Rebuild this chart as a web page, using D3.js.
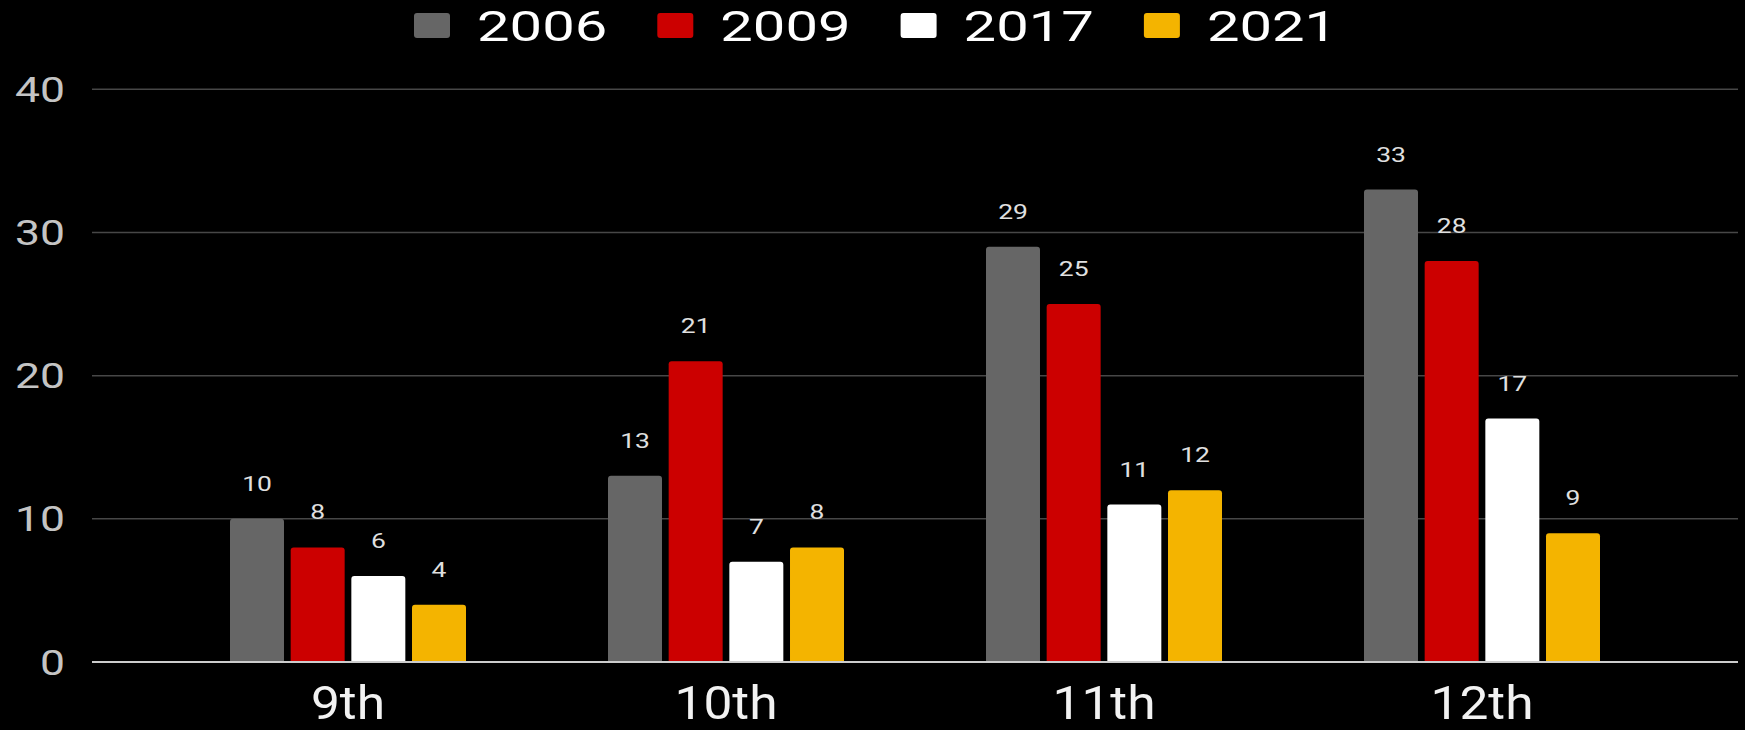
<!DOCTYPE html>
<html>
<head>
<meta charset="utf-8">
<script src="https://cdn.jsdelivr.net/npm/d3@7"></script>
<style>
html,body{margin:0;padding:0;background:#000;}
svg{display:block;}
text{font-family:Roboto,"Noto Sans",sans-serif;}
</style>
</head>
<body>
<svg id="chart" width="1745" height="730"></svg>
<script>
const categories = ["9th", "10th", "11th", "12th"];
const years = ["2006", "2009", "2017", "2021"];
const v2006 = [10, 13, 29, 33];
const v2009 = [8, 21, 25, 28];
const v2017 = [6, 7, 11, 17];
const v2021 = [4, 8, 12, 9];
const yTicks = [0, 10, 20, 30, 40];
const colors = ["#666666", "#cc0000", "#ffffff", "#f4b400"];

const seriesVals = [v2006, v2009, v2017, v2021];
const data = categories.map((c, i) => ({cat: c, vals: years.map((y, j) => ({year: y, v: seriesVals[j][i], color: colors[j]}))}));

const svg = d3.select("#chart");
svg.append("rect").attr("width", 1745).attr("height", 730).attr("fill", "#000");

const y = d3.scaleLinear().domain([0, 40]).range([662, 89.3]);
const x0 = d3.scaleBand().domain(categories).range([159, 1671]).padding(0);
const x1 = d3.scaleBand().domain(years).range([-118, 118]).paddingInner(0.11).paddingOuter(0);

// gridlines
svg.append("g").selectAll("line").data(yTicks.filter(t => t > 0)).join("line")
  .attr("x1", 92).attr("x2", 1738)
  .attr("y1", d => y(d)).attr("y2", d => y(d))
  .attr("stroke", "#474747").attr("stroke-width", 1.5);

// y axis labels
const yAxis = svg.append("g");
yAxis.selectAll("g").data(yTicks).join("g")
  .attr("transform", d => `translate(65,${y(d)}) scale(1.27,1)`)
  .append("text")
  .attr("text-anchor", "end").attr("dy", "0.36em")
  .attr("font-size", 35).attr("fill", "#c4c4c4")
  .text(d => d);

// bars
function topRounded(x, yTop, w, h, r) {
  r = Math.min(r, h, w / 2);
  return `M${x},${yTop + h}V${yTop + r}Q${x},${yTop} ${x + r},${yTop}H${x + w - r}Q${x + w},${yTop} ${x + w},${yTop + r}V${yTop + h}Z`;
}
const groups = svg.append("g").selectAll("g").data(data).join("g")
  .attr("transform", d => `translate(${x0(d.cat) + x0.bandwidth() / 2},0)`);
groups.selectAll("path").data(d => d.vals).join("path")
  .attr("d", d => topRounded(x1(d.year), y(d.v), x1.bandwidth(), y(0) - y(d.v), 3))
  .attr("fill", d => d.color);
groups.selectAll("g.lbl").data(d => d.vals).join("g").attr("class", "lbl")
  .attr("transform", d => `translate(${x1(d.year) + x1.bandwidth() / 2},${y(d.v) - 28}) scale(1.29,1)`)
  .append("text")
  .attr("text-anchor", "middle").attr("font-size", 20.5).attr("fill", "#e0e0e0")
  .text(d => d.v);

// baseline
svg.append("line").attr("x1", 92).attr("x2", 1738).attr("y1", y(0)).attr("y2", y(0))
  .attr("stroke", "#cccccc").attr("stroke-width", 2);

// x axis labels
svg.append("g").selectAll("g").data(categories).join("g")
  .attr("transform", d => `translate(${x0(d) + x0.bandwidth() / 2},719) scale(1.12,1)`)
  .append("text")
  .attr("text-anchor", "middle").attr("font-size", 46).attr("fill", "#f2f2f2")
  .text(d => d);

// legend
const leg = svg.append("g").selectAll("g").data(years).join("g")
  .attr("transform", (d, i) => `translate(${414 + i * 243.3},0)`);
leg.append("rect").attr("x", 0).attr("y", 13).attr("width", 36).attr("height", 25).attr("rx", 3)
  .attr("fill", (d, i) => colors[i]);
leg.append("g").attr("transform", "translate(63,40.5) scale(1.38,1)")
  .append("text").attr("font-size", 42).attr("fill", "#ffffff").text(d => d);
</script>
</body>
</html>
